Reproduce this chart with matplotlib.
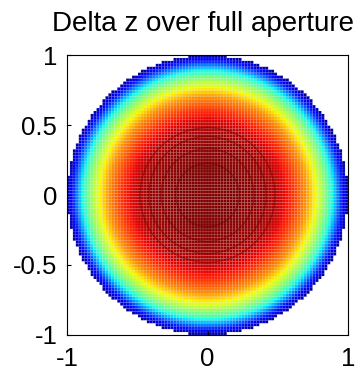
import numpy as np
import matplotlib
matplotlib.use("Agg")
import matplotlib.pyplot as plt

# Radial profile of Delta z (normalised)
radius = [0.0, 0.2, 0.4, 0.5, 0.6, 0.7, 0.8, 0.85, 0.9, 0.95, 1.0]
dz_profile = [1.0, 0.998, 0.975, 0.94, 0.87, 0.76, 0.59, 0.48, 0.34, 0.17, 0.02]
ring_levels = [0.947, 0.969, 0.983, 0.995]
xticks = [-1, 0, 1]
yticks = [-1, -0.5, 0, 0.5, 1]
title = "Delta z over full aperture"

plt.rcParams['font.family'] = ['Liberation Sans', 'DejaVu Sans']

n = 95
edges = np.linspace(-1, 1, n + 1)
centers = 0.5 * (edges[:-1] + edges[1:])
X, Y = np.meshgrid(centers, centers)
R = np.hypot(X, Y)
Z = np.interp(R, radius, dz_profile)
Z = np.ma.masked_where(R > 1.0, Z)

fig = plt.figure(figsize=(3.6, 3.73), dpi=100)
ax = fig.add_axes([67/360, 38/373, 281/360, 280/373])
ax.pcolor(edges, edges, Z, cmap='jet', vmin=0, vmax=1,
          edgecolors=(0.85, 0.85, 0.85, 0.18), linewidth=0.3)
ax.contour(X, Y, Z, levels=ring_levels, colors=['#700000'], linewidths=1.0, alpha=0.5)
ax.set_xlim(-1, 1)
ax.set_ylim(-1, 1)
ax.set_xticks(xticks)
ax.set_xticklabels([str(t) for t in xticks])
ax.set_yticks(yticks)
ax.set_yticklabels([('%g' % t) for t in yticks])
ax.tick_params(direction='in', length=3, labelsize=18.5, width=0.8)
ax.tick_params(axis='x', pad=9)
ax.tick_params(axis='y', pad=7)
for s in ax.spines.values():
    s.set_linewidth(0.8)
ax.set_title(title, fontsize=20, pad=17, x=0.483)
fig.savefig("out.png", dpi=100)
